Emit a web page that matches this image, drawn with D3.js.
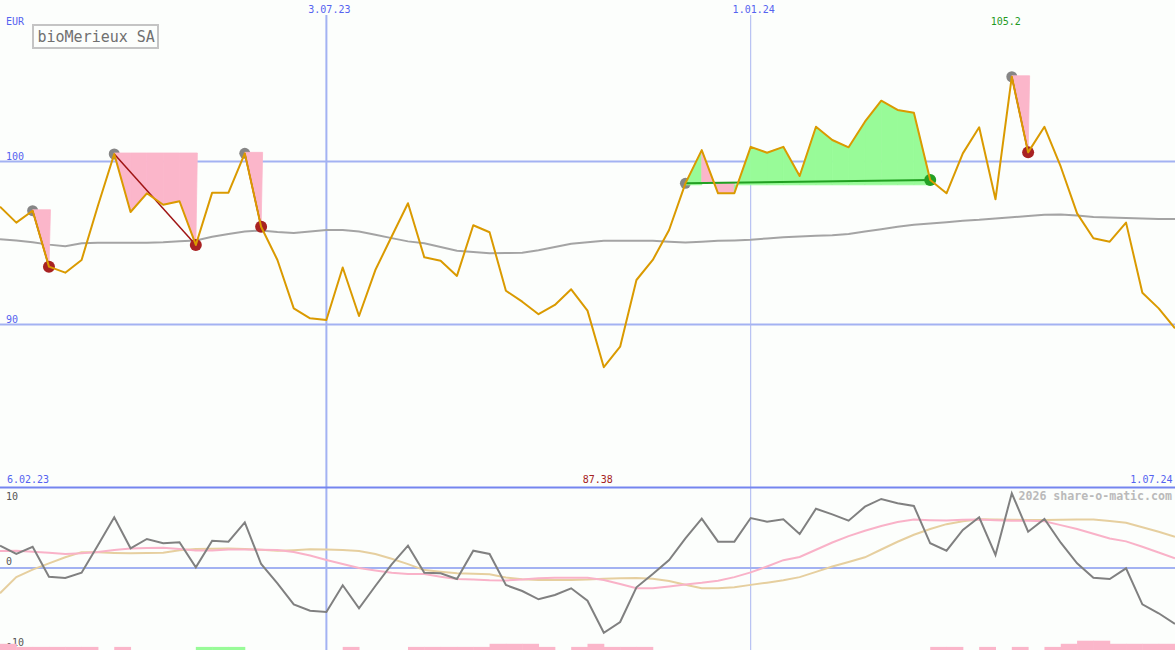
<!DOCTYPE html>
<html>
<head>
<meta charset="utf-8">
<script src="https://cdn.jsdelivr.net/npm/d3@7"></script>
<style>
  body { margin: 0; background: #fcfefc; }
  svg { display: block; font-family: "DejaVu Sans Mono", monospace; }
</style>
</head>
<body>
<div id="chart"></div>
<script>
// weekly closes, 13.02.23 .. 1.07.24
const startDate = new Date(2023, 1, 13);
const closes = [97.23, 96.25, 96.98, 93.55, 93.18, 93.96, 97.28, 100.46, 96.9, 98.05,
  97.35, 97.56, 94.88, 98.09, 98.09, 100.5, 96.0, 93.96, 90.99, 90.38,
  90.28, 93.5, 90.52, 93.34, 95.4, 97.44, 94.12, 93.91, 92.98, 96.09,
  95.66, 92.07, 91.4, 90.63, 91.2, 92.16, 90.85, 87.38, 88.64, 92.73,
  93.96, 95.8, 98.66, 100.7, 98.05, 98.05, 100.9, 100.54, 100.9, 99.11,
  102.13, 101.32, 100.87, 102.44, 103.73, 103.16, 102.99, 98.87, 98.05, 100.5,
  102.1, 97.68, 105.2, 100.56, 102.13, 99.68, 96.82, 95.29, 95.08, 96.25,
  91.95, 90.99, 89.77];
const movingAvg = [95.23, 95.15, 95.04, 94.9, 94.8, 94.98, 95.02, 95.02, 95.02, 95.02,
  95.04, 95.1, 95.16, 95.38, 95.55, 95.7, 95.77, 95.68, 95.62, 95.7,
  95.8, 95.8, 95.7, 95.5, 95.3, 95.1, 94.98, 94.75, 94.53, 94.45,
  94.37, 94.38, 94.4, 94.55, 94.75, 94.95, 95.05, 95.14, 95.14, 95.14,
  95.14, 95.08, 95.03, 95.08, 95.14, 95.16, 95.2, 95.28, 95.36, 95.4,
  95.44, 95.47, 95.55, 95.7, 95.85, 96.0, 96.12, 96.2, 96.28, 96.37,
  96.42, 96.5, 96.58, 96.66, 96.74, 96.75, 96.68, 96.6, 96.56, 96.53,
  96.5, 96.48, 96.47];

// lower panel indicator lines
const momentum = [2.79, 1.75, 2.66, -1.09, -1.25, -0.59, 2.85, 6.34, 2.46, 3.63,
  3.09, 3.21, 0.09, 3.41, 3.29, 5.71, 0.5, -1.91, -4.54, -5.34,
  -5.5, -2.16, -5.04, -2.25, 0.45, 2.79, -0.59, -0.66, -1.38, 2.16,
  1.75, -2.13, -2.88, -3.91, -3.38, -2.54, -4.09, -8.09, -6.75, -2.41,
  -0.75, 1.0, 3.71, 6.16, 3.29, 3.29, 6.25, 5.79, 6.09, 4.25,
  7.41, 6.71, 5.91, 7.66, 8.63, 8.09, 7.75, 3.09, 2.16, 4.75,
  6.34, 1.63, 9.34, 4.54, 6.13, 3.16, 0.59, -1.21, -1.38, -0.04,
  -4.54, -5.66, -7.0];
const fastLine = [2.13, 2.16, 2.04, 1.9, 1.76, 1.84, 1.99, 2.26, 2.44, 2.5,
  2.53, 2.38, 2.18, 2.2, 2.31, 2.31, 2.29, 2.26, 2.01, 1.56,
  1.01, 0.5, 0.0, -0.3, -0.6, -0.75, -0.76, -1.08, -1.38, -1.45,
  -1.53, -1.56, -1.43, -1.29, -1.21, -1.21, -1.21, -1.5, -2.0, -2.54,
  -2.54, -2.31, -2.06, -1.85, -1.59, -1.14, -0.55, 0.19, 0.98, 1.38,
  2.28, 3.19, 3.99, 4.65, 5.26, 5.76, 6.06, 5.98, 5.94, 6.03,
  6.06, 5.98, 5.91, 5.91, 5.84, 5.36, 4.88, 4.28, 3.68, 3.33,
  2.66, 1.94, 1.21];
const slowLine = [-3.16, -1.14, -0.2, 0.58, 1.35, 1.98, 1.96, 1.89, 1.85, 1.88,
  1.91, 2.21, 2.36, 2.4, 2.45, 2.39, 2.27, 2.16, 2.23, 2.33,
  2.3, 2.26, 2.13, 1.74, 1.16, 0.49, -0.26, -0.46, -0.66, -0.73,
  -0.79, -1.19, -1.4, -1.5, -1.5, -1.5, -1.45, -1.35, -1.28, -1.24,
  -1.33, -1.63, -2.1, -2.54, -2.54, -2.4, -2.11, -1.83, -1.53, -1.14,
  -0.49, 0.19, 0.76, 1.34, 2.31, 3.28, 4.16, 4.88, 5.48, 5.83,
  6.09, 6.06, 6.04, 6.01, 6.0, 6.03, 6.06, 6.06, 5.86, 5.66,
  5.1, 4.53, 3.91];
// signal bars at the bottom: negative = pink, positive = green
const barLevels = [-2, -1, -1, -1, -1, -1, 0, -1, 0, 0,
  0, 0, 1, 1, 1, 0, 0, 0, 0, 0,
  0, -1, 0, 0, 0, -1, -1, -1, -1, -1,
  -2, -2, -2, -1, 0, -1, -2, -1, -1, -1,
  0, 0, 0, 0, 0, 0, 0, 0, 0, 0,
  0, 0, 0, 0, 0, 0, 0, -1, -1, 0,
  -1, 0, -1, 0, -1, -2, -3, -3, -2, -2,
  -2, -2, 0];

// trades: entry / exit week index
const trades = [
  { entry: 2, exit: 3 },
  { entry: 7, exit: 12 },
  { entry: 15, exit: 16 },
  { entry: 42, exit: 57 },
  { entry: 62, exit: 63 }
];

const priceTicks = [100, 90];
const gridDates = [
  { date: new Date(2023, 6, 3), label: "3.07.23", width: 2 },
  { date: new Date(2024, 0, 1), label: "1.01.24", width: 1 }
];
const indTicks = [10, 0, -10];
const title = "bioMerieux SA";
const currency = "EUR";
const firstLabel = "6.02.23";
const lastLabel = "1.07.24";
const copyright = "2026 share-o-matic.com";

const W = 1175, H = 650;
const weeks = closes.map((_, i) => d3.timeWeek.offset(startDate, i));

const x = d3.scaleTime().domain([weeks[0], weeks[weeks.length - 1]]).range([0, W]);
const y = d3.scaleLinear().domain([80, 110]).range([487.5, -1.5]);
const yInd = d3.scaleLinear().domain([-10, 10]).range([648, 488]);
const yBar = d3.scaleLinear().domain([0, 3]).range([0, 9.3]);

const blue = "#5563f0", grid = "#a3b2f2";
const pink = "#fbb6ca", green = "#98fb98";

const svg = d3.select("#chart").append("svg")
  .attr("width", W).attr("height", H)
  .attr("viewBox", [0, 0, W, H]);

svg.append("rect").attr("width", W).attr("height", H).attr("fill", "#fcfefc");

// grid
svg.selectAll(".hgrid").data(priceTicks).enter().append("line")
  .attr("x1", 0).attr("x2", W)
  .attr("y1", d => y(d)).attr("y2", d => y(d))
  .attr("stroke", grid).attr("stroke-width", 2);

svg.selectAll(".vgrid").data(gridDates).enter().append("line")
  .attr("x1", d => x(d.date)).attr("x2", d => x(d.date))
  .attr("y1", 15).attr("y2", H)
  .attr("stroke", d => d.width > 1 ? grid : "#a9b6f0")
  .attr("stroke-width", d => d.width);

svg.append("line")
  .attr("x1", 0).attr("x2", W).attr("y1", yInd(0)).attr("y2", yInd(0))
  .attr("stroke", grid).attr("stroke-width", 2);

svg.append("line")
  .attr("x1", 0).attr("x2", W).attr("y1", y(80)).attr("y2", y(80))
  .attr("stroke", "#7585ef").attr("stroke-width", 2);

// labels
svg.selectAll(".ptick").data(priceTicks).enter().append("text")
  .attr("x", 6).attr("y", d => y(d) - 2)
  .attr("fill", blue).attr("font-size", 10)
  .text(d => d);

svg.selectAll(".dlab").data(gridDates).enter().append("text")
  .attr("x", d => x(d.date) + 3).attr("y", 12.5)
  .attr("text-anchor", "middle")
  .attr("fill", blue).attr("font-size", 10)
  .text(d => d.label);

svg.append("text").attr("x", 6).attr("y", 25)
  .attr("fill", blue).attr("font-size", 10).text(currency);

svg.append("text").attr("x", 7).attr("y", 483)
  .attr("fill", blue).attr("font-size", 10).text(firstLabel);

svg.append("text").attr("x", W - 2.5).attr("y", 483)
  .attr("text-anchor", "end")
  .attr("fill", blue).attr("font-size", 10).text(lastLabel);

svg.append("rect")
  .attr("x", 33).attr("y", 25).attr("width", 125).attr("height", 23)
  .attr("fill", "none").attr("stroke", "#c4c4c4").attr("stroke-width", 2);
svg.append("text").attr("x", 37.5).attr("y", 41.5)
  .attr("fill", "#707070").attr("font-size", 15).text(title);

// max / min labels
const iMax = d3.maxIndex(closes), iMin = d3.minIndex(closes);
svg.append("text").attr("x", x(weeks[iMax]) - 6).attr("y", 25)
  .attr("text-anchor", "middle").attr("fill", "#1f9a1f").attr("font-size", 10)
  .text(closes[iMax]);
svg.append("text").attr("x", x(weeks[iMin]) - 6).attr("y", 482.5)
  .attr("text-anchor", "middle").attr("fill", "#a52222").attr("font-size", 10)
  .text(closes[iMin]);

// moving average
const priceLine = d3.line().x((d, i) => x(weeks[i])).y(d => y(d));
svg.append("path").datum(movingAvg)
  .attr("d", priceLine)
  .attr("fill", "none").attr("stroke", "#a4a4a4").attr("stroke-width", 2);

// entry dots
svg.selectAll(".entry").data(trades).enter().append("circle")
  .attr("cx", d => x(weeks[d.entry])).attr("cy", d => y(closes[d.entry]))
  .attr("r", 5.5).attr("fill", "#868686");

// trade fills, segment by segment against the entry level
trades.forEach(t => {
  const level = closes[t.entry];
  for (let k = t.entry; k < t.exit; k++) {
    const up = closes[k + 1] >= level;
    const base = y(level) + (up ? 1.5 : -1);
    const pts = [
      [x(weeks[k]), base],
      [x(weeks[k]), y(closes[k])],
      [x(weeks[k + 1]), y(closes[k + 1])],
      [x(weeks[k + 1]) + (k + 1 === t.exit ? 1.5 : 0), base]
    ];
    svg.append("path")
      .attr("d", d3.line()(pts) + "Z")
      .attr("fill", up ? green : pink)
      .attr("stroke", up ? green : pink)
      .attr("stroke-width", 0.8);
  }
});

// trade lines
svg.selectAll(".trade").data(trades).enter().append("line")
  .attr("x1", d => x(weeks[d.entry])).attr("y1", d => y(closes[d.entry]))
  .attr("x2", d => x(weeks[d.exit])).attr("y2", d => y(closes[d.exit]))
  .attr("stroke", d => closes[d.exit] >= closes[d.entry] ? "#22a022" : "#a01515")
  .attr("stroke-width", d => closes[d.exit] >= closes[d.entry] ? 2 : 1.5);

// exit dots
svg.selectAll(".exit").data(trades).enter().append("circle")
  .attr("cx", d => x(weeks[d.exit])).attr("cy", d => y(closes[d.exit]))
  .attr("r", 6)
  .attr("fill", d => closes[d.exit] >= closes[d.entry] ? "#24a024" : "#a82222");

// price line
svg.append("path").datum(closes)
  .attr("d", priceLine)
  .attr("fill", "none").attr("stroke", "#da9a00").attr("stroke-width", 2)
  .attr("stroke-linejoin", "round");

// lower panel
svg.selectAll(".itick").data(indTicks).enter().append("text")
  .attr("x", 6)
  .attr("y", d => d === 10 ? 499.5 : d === 0 ? yInd(0) - 3 : 645.5)
  .attr("fill", "#555").attr("font-size", 10)
  .text(d => d);

svg.append("text").attr("x", W - 3).attr("y", 500)
  .attr("text-anchor", "end").attr("fill", "#bababa")
  .attr("font-size", 11.6).attr("font-weight", "bold")
  .text(copyright);

const indLine = d3.line().x((d, i) => x(weeks[i])).y(d => yInd(d));
[[slowLine, "#e6cf9f"], [fastLine, "#f9b2c8"], [momentum, "#808080"]].forEach(([s, c]) => {
  svg.append("path").datum(s)
    .attr("d", indLine)
    .attr("fill", "none").attr("stroke", c).attr("stroke-width", 2);
});

svg.selectAll(".bar").data(barLevels.slice(0, -1)).enter().append("rect")
  .attr("x", (d, i) => x(weeks[i]))
  .attr("width", (d, i) => x(weeks[i + 1]) - x(weeks[i]) + 0.5)
  .attr("y", d => H - yBar(Math.abs(d)))
  .attr("height", d => yBar(Math.abs(d)))
  .attr("fill", d => d > 0 ? green : pink);
</script>
</body>
</html>
